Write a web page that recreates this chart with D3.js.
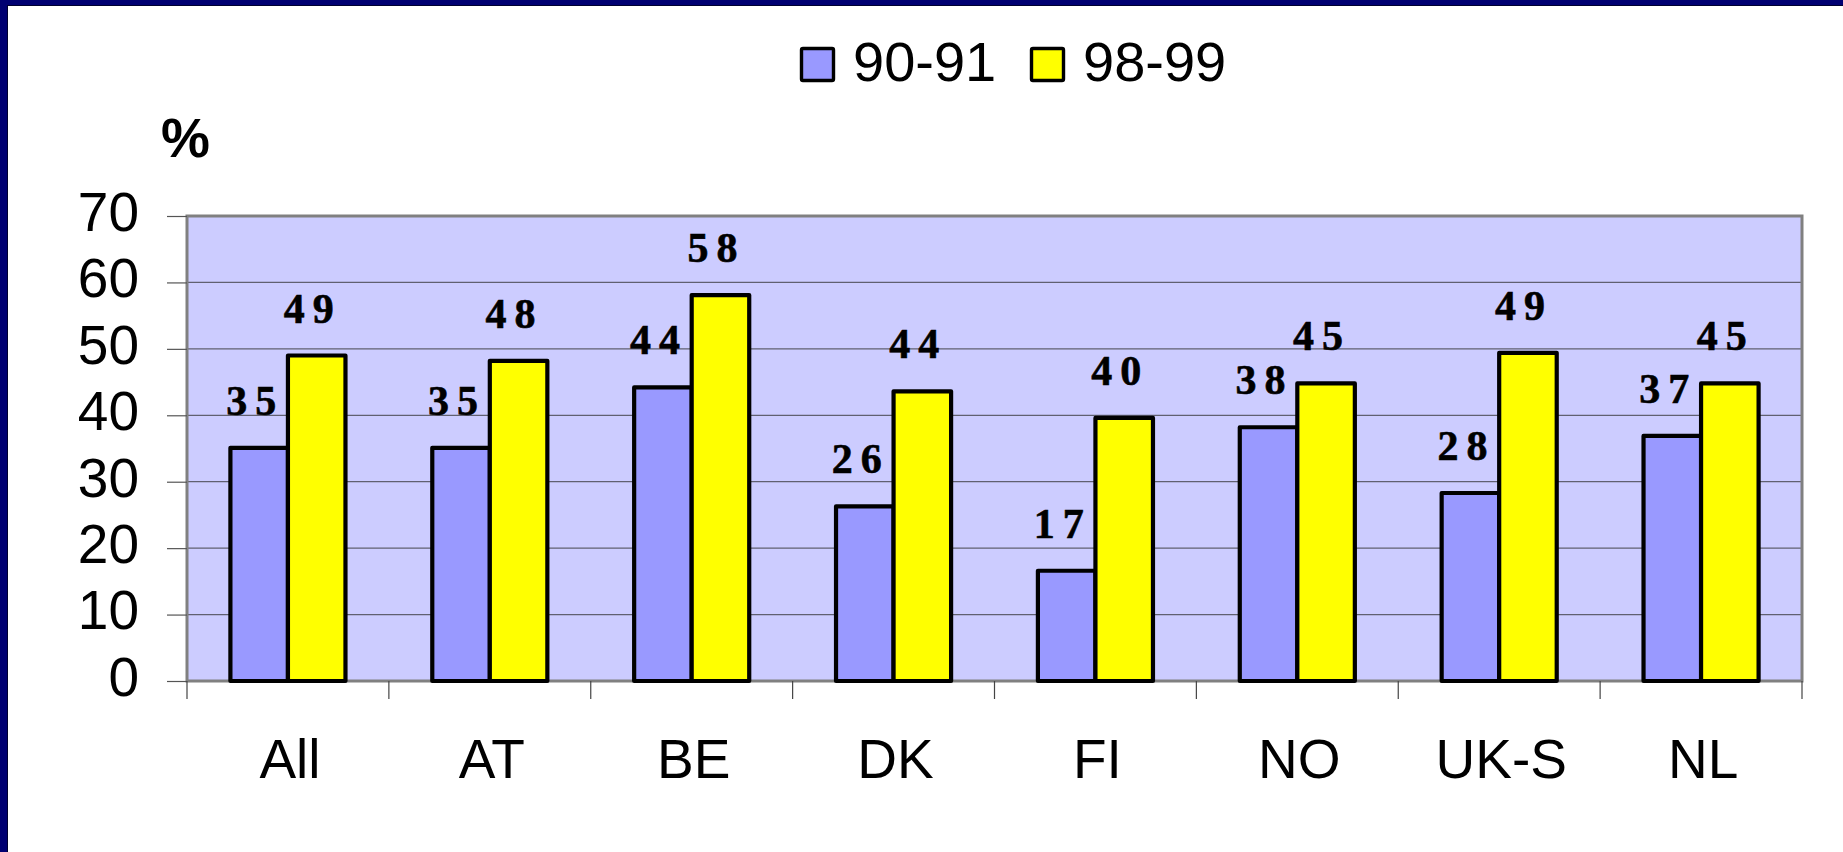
<!DOCTYPE html>
<html>
<head>
<meta charset="utf-8">
<script src="https://cdn.jsdelivr.net/npm/d3@7/dist/d3.min.js"></script>
<style>
  html, body { margin: 0; padding: 0; background: #ffffff; }
  svg { display: block; }
</style>
</head>
<body>
<svg id="chart" width="1843" height="852"></svg>
<script>
// ---- data ----
const categories = ["All", "AT", "BE", "DK", "FI", "NO", "UK-S", "NL"];
const seriesNames = ["90-91", "98-99"];
const values9091 = [35.1, 35.1, 44.2, 26.3, 16.6, 38.2, 28.3, 36.9];
const values9899 = [49.0, 48.2, 58.1, 43.6, 39.6, 44.8, 49.4, 44.8];
const yTicks = [0, 10, 20, 30, 40, 50, 60, 70];
const seriesColors = ["#9999ff", "#ffff00"];

const svg = d3.select("#chart");
const W = 1843, H = 852;
const plot = { left: 187, right: 1802, top: 216, bottom: 681 };

// frame (navy edges left and top)
svg.append("rect").attr("x", 0).attr("y", 0).attr("width", W).attr("height", H).attr("fill", "#ffffff");
svg.append("rect").attr("x", 0).attr("y", 0).attr("width", 7).attr("height", H).attr("fill", "#000072");
svg.append("rect").attr("x", 0).attr("y", 0).attr("width", W).attr("height", 5).attr("fill", "#000072");
svg.append("line").attr("x1", 7.5).attr("x2", 7.5).attr("y1", 5).attr("y2", H).attr("stroke", "#000030").attr("stroke-width", 1);
svg.append("line").attr("x1", 7).attr("x2", W).attr("y1", 5.5).attr("y2", 5.5).attr("stroke", "#000030").attr("stroke-width", 1);

// scales
const x = d3.scaleBand().domain(categories).range([plot.left, plot.right]).padding(0);
const barW = x.bandwidth() * 0.285;
const x1 = d3.scaleBand().domain(seriesNames)
  .range([x.bandwidth() / 2 - barW, x.bandwidth() / 2 + barW]).padding(0);
const y = d3.scaleLinear().domain([0, 70]).range([plot.bottom, plot.top]);

// plot background
svg.append("rect")
  .attr("x", plot.left).attr("y", plot.top)
  .attr("width", plot.right - plot.left).attr("height", plot.bottom - plot.top)
  .attr("fill", "#ccccff");

// gridlines
svg.append("g").selectAll("line").data(yTicks.filter(t => t > 0 && t < 70)).join("line")
  .attr("x1", plot.left).attr("x2", plot.right)
  .attr("y1", d => y(d)).attr("y2", d => y(d))
  .attr("stroke", "#606070").attr("stroke-width", 1.2);

// plot border
svg.append("rect")
  .attr("x", plot.left).attr("y", plot.top)
  .attr("width", plot.right - plot.left).attr("height", plot.bottom - plot.top)
  .attr("fill", "none").attr("stroke", "#808080").attr("stroke-width", 3);

// y axis
const yAxis = d3.axisLeft(y).tickValues(yTicks).tickSize(20).tickPadding(28).tickFormat(d3.format("d"));
const gy = svg.append("g").attr("transform", `translate(${plot.left},0)`).call(yAxis);
gy.select(".domain").remove();
gy.selectAll(".tick line").attr("stroke", "#555555").attr("stroke-width", 1.2);
gy.selectAll(".tick text")
  .attr("font-family", "'Liberation Sans', Arial, sans-serif")
  .attr("font-size", 55).attr("fill", "#000").attr("dy", "0.26em");

// x axis boundary ticks
const boundaries = categories.map(c => x(c)).concat([plot.right]);
svg.append("g").selectAll("line").data(boundaries).join("line")
  .attr("x1", d => d).attr("x2", d => d)
  .attr("y1", plot.bottom).attr("y2", plot.bottom + 18)
  .attr("stroke", "#444444").attr("stroke-width", 1.2);

// x axis labels
const xAxis = d3.axisBottom(x).tickSize(0).tickPadding(58);
const gx = svg.append("g").attr("transform", `translate(2,${plot.bottom})`).call(xAxis);
gx.select(".domain").remove();
gx.selectAll(".tick text")
  .attr("font-family", "'Liberation Sans', Arial, sans-serif")
  .attr("font-size", 55).attr("fill", "#000");

// bars
const rows = categories.map((c, i) => ({ cat: c, vals: [values9091[i], values9899[i]] }));
const groups = svg.append("g").selectAll("g").data(rows).join("g")
  .attr("transform", d => `translate(${x(d.cat)},0)`);

groups.selectAll("rect").data(d => d.vals.map((v, j) => ({ s: seriesNames[j], v, j }))).join("rect")
  .attr("x", d => x1(d.s)).attr("width", x1.bandwidth())
  .attr("y", d => y(d.v)).attr("height", d => y(0) - y(d.v))
  .attr("fill", d => seriesColors[d.j])
  .attr("stroke", "#000").attr("stroke-width", 4.2).attr("stroke-linejoin", "round");

// data labels
const fmt = d3.format(".0f");
groups.selectAll("text").data(d => d.vals.map((v, j) => ({ s: seriesNames[j], v, j }))).join("text")
  .attr("x", d => x1(d.s) + x1.bandwidth() / 2 - 4)
  .attr("y", d => y(d.v) - 33)
  .attr("text-anchor", "middle")
  .attr("font-family", "'Liberation Serif', 'Times New Roman', serif")
  .attr("font-weight", "bold").attr("font-size", 42)
  .attr("letter-spacing", 8)
  .attr("fill", "#000").attr("stroke", "#000").attr("stroke-width", 0.6)
  .text(d => fmt(d.v));

// y unit label
svg.append("text").attr("x", 161).attr("y", 157)
  .attr("font-family", "'Liberation Sans', Arial, sans-serif")
  .attr("font-weight", "bold").attr("font-size", 55).attr("fill", "#000")
  .text("%");

// legend
const legendX = [800, 1030];
const legend = svg.append("g").selectAll("g").data(seriesNames).join("g")
  .attr("transform", (d, i) => `translate(${legendX[i]},47)`);
legend.append("rect")
  .attr("x", 1.5).attr("y", 1.5).attr("width", 32).attr("height", 32)
  .attr("fill", (d, i) => seriesColors[i])
  .attr("stroke", "#000").attr("stroke-width", 3.4).attr("rx", 1.5);
legend.append("text")
  .attr("x", 53).attr("y", 34)
  .attr("font-family", "'Liberation Sans', Arial, sans-serif")
  .attr("font-size", 56).attr("fill", "#000")
  .text(d => d);
</script>
</body>
</html>
